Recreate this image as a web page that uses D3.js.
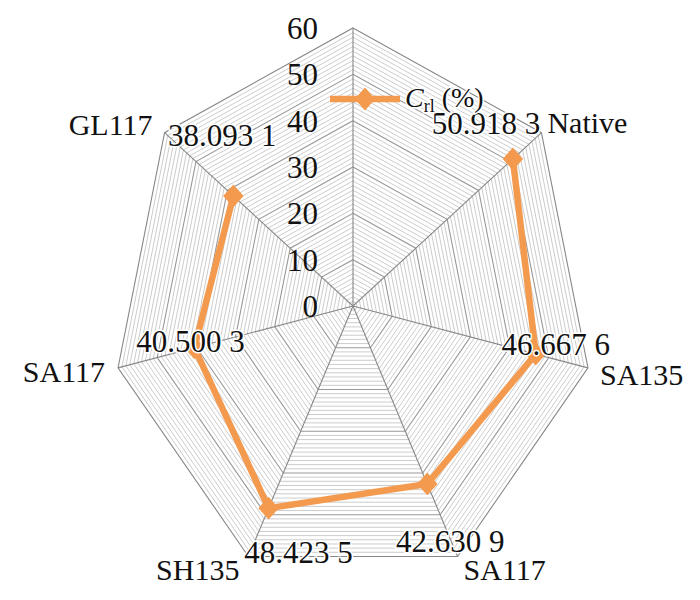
<!DOCTYPE html>
<html>
<head>
<meta charset="utf-8">
<script src="https://cdn.jsdelivr.net/npm/d3@7"></script>
<style>
  html, body { margin: 0; padding: 0; background: #fff; }
  svg { display: block; }
  text { font-family: "Liberation Serif", "Times New Roman", serif; fill: #111; }
</style>
</head>
<body>
<svg id="chart" width="700" height="600"></svg>
<script>
// ---- data ----
const categories = ["", "Native", "SA135", "SA117", "SH135", "SA117", "GL117"];
const values = [null, 50.9183, 46.6676, 42.6309, 48.4235, 40.5003, 38.0931];
const valueLabels = ["", "50.918 3", "46.667 6", "42.630 9", "48.423 5", "40.500 3", "38.093 1"];
const tickValues = [0, 10, 20, 30, 40, 50, 60];
const seriesName = "C";
const seriesSub = "rl";
const seriesUnit = " (%)";

// ---- layout ----
const cx = 353, cy = 306;
const ry = 278, xSquash = 241 / 278;
const orange = "#F49A4F";

const svg = d3.select("#chart");
const r = d3.scaleLinear().domain([0, 60]).range([0, ry]);
const angle = d3.scaleLinear().domain([0, categories.length]).range([0, 2 * Math.PI]);

function pt(i, v) {
  const a = angle(i);
  return [cx + r(v) * Math.sin(a) * xSquash, cy - r(v) * Math.cos(a)];
}

// grid rings
const gridG = svg.append("g");
const ringVals = d3.range(1, 61);
gridG.selectAll("polygon.ring").data(ringVals).join("polygon")
  .attr("points", v => categories.map((c, i) => pt(i, v).join(",")).join(" "))
  .attr("fill", "none")
  .attr("stroke", v => v === 60 ? "#888" : (v % 10 === 0 ? "#999" : "#c6c6c6"))
  .attr("stroke-width", v => v % 10 === 0 ? 1.1 : 0.9);

// spokes
gridG.selectAll("line.spoke").data(categories).join("line")
  .attr("x1", cx).attr("y1", cy)
  .attr("x2", (c, i) => pt(i, 60)[0]).attr("y2", (c, i) => pt(i, 60)[1])
  .attr("stroke", "#888").attr("stroke-width", 1.1);

// tick labels
svg.append("g").selectAll("text").data(tickValues).join("text")
  .attr("x", cx - 35)
  .attr("y", v => cy - r(v) + 11)
  .attr("text-anchor", "end")
  .attr("font-size", 31)
  .text(v => v);

// series line
const line = d3.line()
  .defined(d => d.v != null)
  .x(d => pt(d.i, d.v)[0])
  .y(d => pt(d.i, d.v)[1]);
const pts = values.map((v, i) => ({ i, v }));
svg.append("path")
  .attr("d", line(pts))
  .attr("fill", "none")
  .attr("stroke", orange)
  .attr("stroke-width", 6.5)
  .attr("stroke-linejoin", "round");

const diamond = d3.symbol().type(d3.symbolDiamond2 || d3.symbolDiamond).size(330);
svg.append("g").selectAll("path").data(pts.filter(d => d.v != null)).join("path")
  .attr("d", diamond)
  .attr("transform", d => `translate(${pt(d.i, d.v)[0]},${pt(d.i, d.v)[1]}) scale(0.9,1)`)
  .attr("fill", orange);

// data labels (offsets relative to each point, center-anchored)
const labelOffsets = [[0,0], [-27, -25], [20, 1], [23, 68], [30, 55], [-4, 4], [-11, -50]];
svg.append("g").selectAll("text").data(pts.filter(d => d.v != null)).join("text")
  .attr("x", d => pt(d.i, d.v)[0] + labelOffsets[d.i][0])
  .attr("y", d => pt(d.i, d.v)[1] + labelOffsets[d.i][1])
  .attr("text-anchor", "middle")
  .attr("font-size", 31)
  .attr("stroke", "#fff").attr("stroke-width", 3).attr("paint-order", "stroke")
  .text(d => valueLabels[d.i]);

// category labels
const catOffsets = [[0,0,"middle"], [6, 0, "start"], [12, 17, "start"], [6, 24, "start"], [-9, 24, "end"], [-13, 14, "end"], [-12, 2, "end"]];
svg.append("g").selectAll("text").data(categories).join("text")
  .attr("x", (c, i) => pt(i, 60)[0] + catOffsets[i][0])
  .attr("y", (c, i) => pt(i, 60)[1] + catOffsets[i][1])
  .attr("text-anchor", (c, i) => catOffsets[i][2])
  .attr("font-size", 30)
  .text(c => c);

// legend
const lg = svg.append("g").attr("transform", "translate(330,99)");
lg.append("line").attr("x1", 0).attr("x2", 70).attr("y1", 0).attr("y2", 0)
  .attr("stroke", orange).attr("stroke-width", 6.5);
lg.append("path").attr("d", diamond).attr("transform", "translate(35,0) scale(0.9,1)").attr("fill", orange);
const lt = lg.append("text").attr("x", 75).attr("y", 8).attr("font-size", 28)
  .attr("stroke", "#fff").attr("stroke-width", 3).attr("paint-order", "stroke");
lt.append("tspan").attr("font-style", "italic").text(seriesName);
lt.append("tspan").attr("font-size", 18).attr("dy", 5).text(seriesSub);
lt.append("tspan").attr("dy", -5).text(seriesUnit);
</script>
</body>
</html>
